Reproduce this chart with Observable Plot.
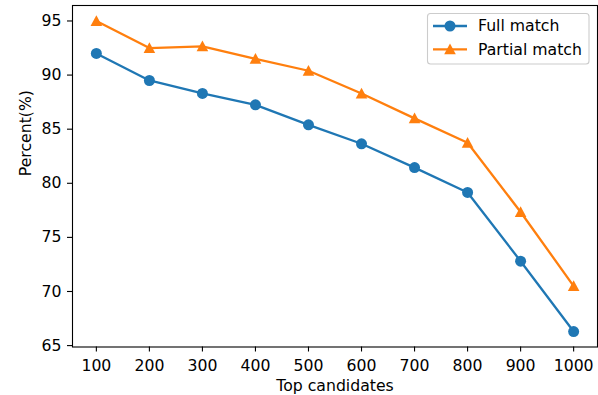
<!DOCTYPE html>
<html><head><meta charset="utf-8">
<script src="https://cdn.jsdelivr.net/npm/d3@7"></script>
<script src="https://cdn.jsdelivr.net/npm/@observablehq/plot@0.6"></script>
<style>
body{margin:0;background:#fff}
#chart svg{font-family:"DejaVu Sans",sans-serif;display:block}
</style>
</head><body><div id="chart"></div>
<script>
const candidates = [100, 200, 300, 400, 500, 600, 700, 800, 900, 1000];
const fullMatch = [92.0, 89.5, 88.3, 87.25, 85.4, 83.65, 81.45, 79.15, 72.8, 66.3];
const partialMatch = [95.0, 92.5, 92.65, 91.5, 90.4, 88.3, 86.0, 83.75, 77.35, 70.5];
const seriesNames = ["Full match", "Partial match"];
const seriesColors = ["#1f77b4", "#ff7f0e"];
const xTicks = [100, 200, 300, 400, 500, 600, 700, 800, 900, 1000];
const yTicks = [65, 70, 75, 80, 85, 90, 95];
const xLabel = "Top candidates";
const yLabel = "Percent(%)";

const rows = [];
candidates.forEach((c, i) => {
  rows.push({x: c, y: fullMatch[i], s: seriesNames[0]});
  rows.push({x: c, y: partialMatch[i], s: seriesNames[1]});
});
const full = rows.filter(d => d.s === seriesNames[0]);
const partial = rows.filter(d => d.s === seriesNames[1]);

// matplotlib-like "^" marker
const triangle = {
  draw(ctx, size) {
    const s = Math.sqrt(size / Math.PI);
    ctx.moveTo(0, -s);
    ctx.lineTo(s, s * 0.85);
    ctx.lineTo(-s, s * 0.85);
    ctx.closePath();
  }
};

const FS = "15.7px";
const chart = Plot.plot({
  width: 598, height: 395,
  marginLeft: 72, marginRight: 1, marginTop: 5, marginBottom: 48.5,
  style: {fontFamily: "DejaVu Sans, sans-serif", fontSize: FS, color: "black", background: "white"},
  x: {domain: [55, 1045]},
  y: {domain: [64.87, 96.43]},
  marks: [
    Plot.axisX({ticks: xTicks, tickSize: 5, tickPadding: 8, tickFormat: d3.format("d"), label: null, strokeWidth: 1.1, fontSize: FS}),
    Plot.axisY({ticks: yTicks, tickSize: 5, tickPadding: 6, tickFormat: d3.format("d"), label: null, strokeWidth: 1.1, fontSize: FS}),
    Plot.line(full, {x: "x", y: "y", stroke: seriesColors[0], strokeWidth: 2.3}),
    Plot.dot(full, {x: "x", y: "y", fill: seriesColors[0], r: 5.5, symbol: "circle"}),
    Plot.line(partial, {x: "x", y: "y", stroke: seriesColors[1], strokeWidth: 2.3}),
    Plot.dot(partial, {x: "x", y: "y", fill: seriesColors[1], r: 5.8, symbol: triangle}),
    Plot.frame({stroke: "black", strokeWidth: 1.1}),
    Plot.text([xLabel], {frameAnchor: "bottom", text: d => d, dy: 43.5, lineAnchor: "bottom", fontSize: FS}),
    Plot.text([yLabel], {frameAnchor: "left", text: d => d, rotate: -90, dx: -42, lineAnchor: "bottom", fontSize: FS})
  ]
});
document.getElementById("chart").appendChild(chart);

// legend (upper right), matplotlib style
const svg = d3.select(chart);
const lg = svg.append("g").attr("font-family", "DejaVu Sans, sans-serif").attr("font-size", FS).attr("text-anchor", "start");
lg.append("rect").attr("x", 427.5).attr("y", 13.5).attr("width", 161.5).attr("height", 50.5)
  .attr("rx", 3).attr("fill", "white").attr("fill-opacity", 0.8).attr("stroke", "#cccccc").attr("stroke-width", 1.1);
seriesNames.forEach((name, i) => {
  const y = 26 + i * 23.3;
  lg.append("line").attr("x1", 433).attr("x2", 467).attr("y1", y).attr("y2", y)
    .attr("stroke", seriesColors[i]).attr("stroke-width", 2.3);
  if (i === 0) {
    lg.append("circle").attr("cx", 450).attr("cy", y).attr("r", 5.5).attr("fill", seriesColors[i]);
  } else {
    lg.append("path").attr("transform", `translate(450,${y})`)
      .attr("d", d3.symbol(triangle, Math.PI * 5.8 * 5.8)()).attr("fill", seriesColors[i]);
  }
  lg.append("text").attr("x", 478).attr("y", y).attr("dy", "0.35em").attr("fill", "black").attr("text-anchor", "start").text(name);
});
</script>
</body></html>
